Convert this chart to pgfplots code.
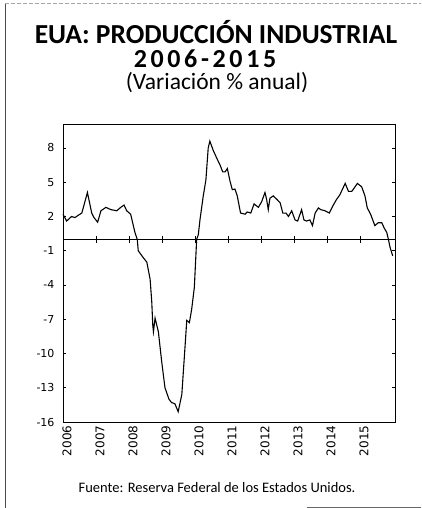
\documentclass[border=0pt]{standalone}
\usepackage{fontspec}
\setmainfont{Carlito}
\newfontfamily\tickfont{DejaVu Sans}
\usepackage{pgfplots}
\pgfplotsset{compat=1.18}

\pgfplotstableread{
x        y
2006.00  2.2
2006.11  1.6
2006.26  2.0
2006.36  1.9
2006.46  2.1
2006.57  2.3
2006.74  4.1
2006.87  2.3
2006.94  1.9
2007.05  1.5
2007.15  2.5
2007.30  2.8
2007.45  2.6
2007.63  2.5
2007.75  2.8
2007.85  3.0
2007.93  2.5
2008.05  2.2
2008.18  0.6
2008.25  0.0
2008.28  -1.0
2008.43  -1.6
2008.54  -2.0
2008.64  -3.5
2008.69  -5.5
2008.72  -7.5
2008.74  -8.1
2008.79  -6.9
2008.89  -8.1
2008.99  -10.7
2009.09  -13.0
2009.21  -14.0
2009.29  -14.3
2009.39  -14.4
2009.49  -15.1
2009.60  -13.6
2009.70  -9.3
2009.75  -7.1
2009.83  -7.3
2009.90  -6.1
2009.98  -4.2
2010.05  0.0
2010.10  0.4
2010.15  1.7
2010.25  3.8
2010.33  5.2
2010.40  8.0
2010.45  8.6
2010.55  7.8
2010.66  7.1
2010.76  6.5
2010.84  5.9
2010.91  5.9
2010.98  6.2
2011.06  5.1
2011.13  4.35
2011.21  4.4
2011.28  3.8
2011.38  2.3
2011.52  2.2
2011.58  2.4
2011.69  2.3
2011.79  3.1
2011.92  2.8
2012.02  3.3
2012.12  4.1
2012.17  3.5
2012.22  2.6
2012.27  3.6
2012.37  3.8
2012.48  3.5
2012.58  3.2
2012.66  2.3
2012.76  2.3
2012.83  2.0
2012.93  2.5
2013.03  1.7
2013.11  1.6
2013.23  2.6
2013.30  1.7
2013.38  1.6
2013.48  1.7
2013.56  1.2
2013.64  2.3
2013.74  2.75
2013.81  2.6
2013.94  2.5
2014.07  2.3
2014.19  3.0
2014.29  3.5
2014.39  3.9
2014.55  4.9
2014.65  4.2
2014.75  4.2
2014.85  4.6
2014.92  4.9
2015.05  4.6
2015.15  3.8
2015.22  2.75
2015.32  2.2
2015.45  1.2
2015.55  1.45
2015.66  1.45
2015.73  1.0
2015.81  0.6
2015.86  0.0
2015.91  -0.7
2015.99  -1.45
}\ipdata

\begin{document}
\begin{tikzpicture}[x=1pt,y=1pt]
\path[use as bounding box] (0,0) rectangle (421,508);
% scan frame
\draw[black!70, line width=0.9pt] (5,0) -- (5,505);
\draw[black!35, line width=0.6pt, dash pattern=on 4pt off 2pt] (5,505) -- (421,505);
\draw[black!60, line width=0.6pt] (307,1) -- (421,1);

\node[font=\fontsize{27.5}{30}\selectfont\bfseries, anchor=base, inner sep=0pt] at (216,464) {EUA: PRODUCCIÓN INDUSTRIAL};
\node[font=\fontsize{26}{28}\selectfont\bfseries\addfontfeature{LetterSpace=14}, anchor=base, inner sep=0pt] at (205,440) {2006-2015};
\node[font=\fontsize{23.5}{26}\selectfont, anchor=base, inner sep=0pt] at (217,418) {(Variación \% anual)};

\begin{axis}[
  at={(63pt,86pt)}, anchor=south west,
  width=332pt, height=298pt, scale only axis,
  xmin=2006, xmax=2016.06, ymin=-16, ymax=10.1,
  xtick={2006,...,2015},
  xticklabels={2006,2007,2008,2009,2010,2011,2012,2013,2014,2015},
  ytick={-16,-13,-10,-7,-4,-1,2,5,8},
  yticklabels={-16,-13,-10,-7,-4,-1,2,5,8},
  xtick style={draw=none},
  tick align=inside, major tick length=3pt,
  ytick style={black, line width=0.8pt},
  xticklabel style={font=\tickfont\fontsize{12}{12}\selectfont, rotate=90, anchor=east, yshift=-4pt},
  yticklabel style={font=\tickfont\fontsize{11}{11}\selectfont, anchor=east, xshift=-5pt},
  axis line style={black, line width=0.9pt},
  clip=false]
\addplot[black, line width=0.9pt] coordinates {(2006,0) (2016.06,0)};
\pgfplotsinvokeforeach{2007,...,2015}{\draw[black, line width=0.8pt] (axis cs:#1,-0.3) -- (axis cs:#1,0.3);}
\addplot[black, line width=1.1pt] table[x=x, y=y] {\ipdata};
\end{axis}

\node[font=\fontsize{14.5}{16}\selectfont, anchor=base] at (217,15) {Fuente: Reserva Federal de los Estados Unidos.};
\end{tikzpicture}
\end{document}
